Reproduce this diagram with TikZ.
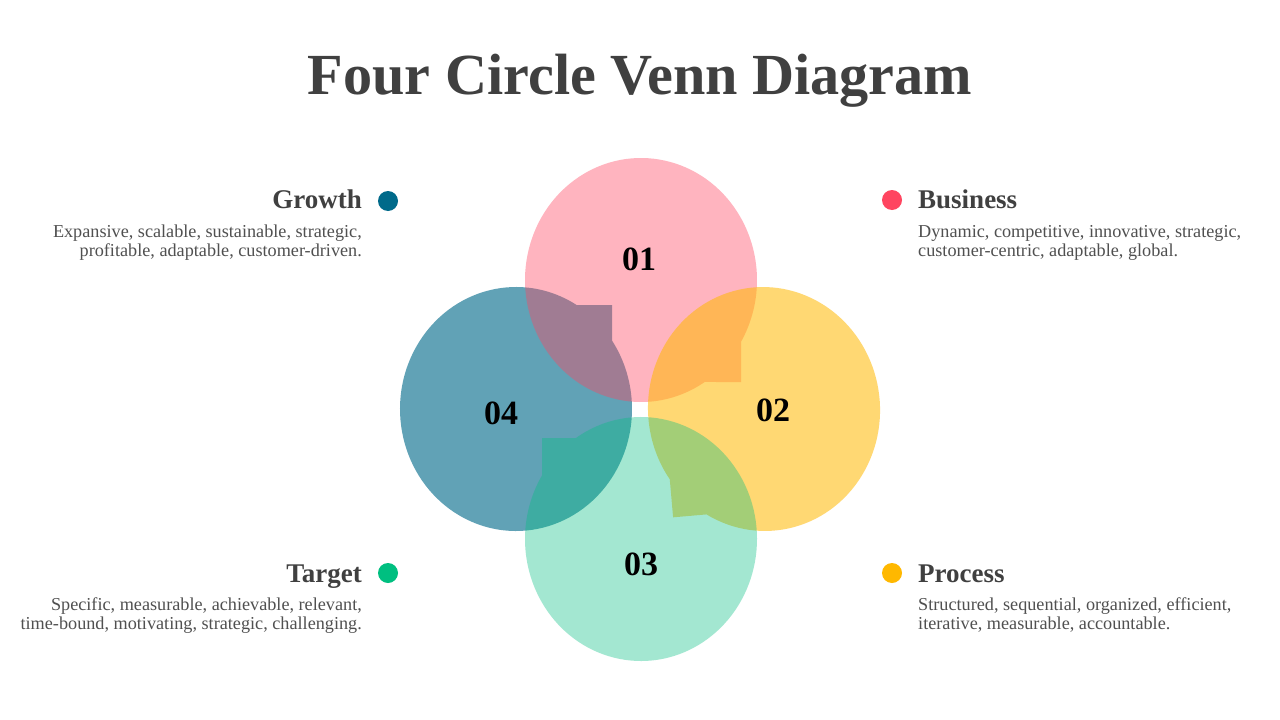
\documentclass[tikz,border=0pt]{standalone}
\usepackage{fontspec}
\setmainfont{Liberation Serif}
\definecolor{pinkc}{HTML}{FF4560}
\definecolor{yellowc}{HTML}{FFB800}
\definecolor{greenc}{HTML}{00BF80}
\definecolor{tealc}{HTML}{006A8A}
\definecolor{titlec}{HTML}{404040}
\definecolor{descc}{HTML}{505050}
\newcommand{\tdrop}[3]{%
  \begin{scope}[#1]
    \fill ({asin(#3/122)}:116 and 122)
      arc[start angle={asin(#3/122)}, end angle={360+acos(#2/116)}, x radius=116, y radius=122]
      -- (#2,#3) -- cycle;
  \end{scope}}
\tikzset{
  numtxt/.style={font=\fontsize{34}{34}\selectfont\bfseries, text=black, inner sep=0pt},
  headtxt/.style={font=\fontsize{27}{30}\selectfont\bfseries, text=titlec, inner sep=0pt},
  desctxt/.style={font=\fontsize{18.2}{19}\selectfont, text=descc, inner sep=0pt},
  dotc/.style={circle, minimum size=20pt, inner sep=0pt, fill=#1}
}
\begin{document}
\begin{tikzpicture}[x=1pt,y=-1pt]
\useasboundingbox (0,0) rectangle (1280,720);
\fill[white] (0,0) rectangle (1280,720);

% title
\node[font=\fontsize{58.2}{60}\selectfont\bfseries, text=titlec, anchor=base, inner sep=0pt] (title) at (640,94) {Four Circle Venn Diagram};

% shapes (teal, pink, yellow, green)
\tdrop{shift={(516,409)}, yscale=-1, fill=tealc, fill opacity=0.62}{96}{104}
\tdrop{shift={(641,280)}, fill=pinkc, fill opacity=0.4}{100}{102}
\tdrop{shift={(764,409)}, rotate=5, xscale=-1, fill=yellowc, fill opacity=0.55}{100}{100}
\tdrop{shift={(641,539)}, xscale=-1, yscale=-1, fill=greenc, fill opacity=0.36}{99}{101}

% numbers
\node[numtxt] (n1) at (639,259) {01};
\node[numtxt] (n2) at (773,410) {02};
\node[numtxt] (n3) at (641,564) {03};
\node[numtxt] (n4) at (501,413) {04};

% Growth
\node[dotc=tealc] (d4) at (388,201) {};
\node[headtxt, anchor=base east] (h4) at (362,208) {Growth};
\node[desctxt, anchor=base east] (t4a) at (362,237) {Expansive, scalable, sustainable, strategic,};
\node[desctxt, anchor=base east] (t4b) at (362,256) {profitable, adaptable, customer-driven.};

% Business
\node[dotc=pinkc] (d1) at (892,200) {};
\node[headtxt, anchor=base west] (h1) at (918,208) {Business};
\node[desctxt, anchor=base west] (t1a) at (918,237) {Dynamic, competitive, innovative, strategic,};
\node[desctxt, anchor=base west] (t1b) at (918,256) {customer-centric, adaptable, global.};

% Target
\node[dotc=greenc] (d3) at (388,573) {};
\node[headtxt, anchor=base east] (h3) at (362,582) {Target};
\node[desctxt, anchor=base east] (t3a) at (362,610) {Specific, measurable, achievable, relevant,};
\node[desctxt, anchor=base east] (t3b) at (362,629) {time-bound, motivating, strategic, challenging.};

% Process
\node[dotc=yellowc] (d2) at (892,573) {};
\node[headtxt, anchor=base west] (h2) at (918,582) {Process};
\node[desctxt, anchor=base west] (t2a) at (918,610) {Structured, sequential, organized, efficient,};
\node[desctxt, anchor=base west] (t2b) at (918,629) {iterative, measurable, accountable.};
\end{tikzpicture}
\end{document}
